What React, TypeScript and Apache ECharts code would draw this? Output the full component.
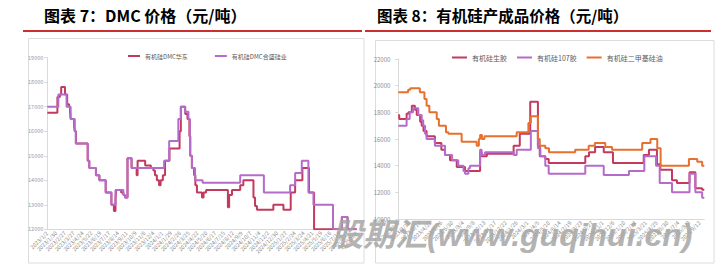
import React, { useEffect, useRef } from "react";
import * as echarts from "echarts";

const leftTitle = "图表 7：DMC 价格（元/吨）";
const rightTitle = "图表 8：有机硅产成品价格（元/吨）";
const watermarkText = "股期汇(www.guqihui.cn)";

const leftLegend = ["有机硅DMC华东", "有机硅DMC合盛硅业"];
const rightLegend = ["有机硅生胶", "有机硅107胶", "有机硅二甲基硅油"];

const leftXTicks = [
  "2023/1/2", "2023/1/30", "2023/2/27", "2023/3/27", "2023/4/24", "2023/5/22",
  "2023/6/19", "2023/7/17", "2023/8/14", "2023/9/11", "2023/10/9", "2023/11/6",
  "2023/12/4", "2024/1/1", "2024/1/29", "2024/2/26", "2024/3/25", "2024/4/22",
  "2024/5/20", "2024/6/17", "2024/7/15", "2024/8/12", "2024/9/9", "2024/10/7",
  "2024/11/4", "2024/12/2", "2024/12/30", "2025/1/27", "2025/2/24", "2025/3/24",
  "2025/4/21", "2025/5/19", "2025/6/16", "2025/7/14", "2025/8/11", "2025/9/8",
];
const leftTickStepDays = 28;

const rightXTicks = [
  "2023/1/6", "2023/2/10", "2023/3/17", "2023/4/21", "2023/5/26", "2023/6/30",
  "2023/8/4", "2023/9/8", "2023/10/13", "2023/11/17", "2023/12/22", "2024/1/26",
  "2024/3/1", "2024/4/5", "2024/5/10", "2024/6/14", "2024/7/19", "2024/8/23",
  "2024/9/27", "2024/11/1", "2024/12/6", "2025/1/10", "2025/2/14", "2025/3/21",
  "2025/4/25", "2025/5/30", "2025/7/4", "2025/8/8", "2025/9/12",
];
const rightTickStepDays = 35;
const rightLastDate = "2025/9/27";

const leftYTicks = [12000, 13000, 14000, 15000, 16000, 17000, 18000, 19000];
const rightYTicks = [10000, 12000, 14000, 16000, 18000, 20000, 22000];

// Left chart: price change points [date, price]
const dmcEast: [string, number][] = [
  ["2023/1/2", 16750], ["2023/2/3", 17400], ["2023/2/11", 17500], ["2023/2/15", 17800],
  ["2023/2/27", 17500], ["2023/3/6", 17100], ["2023/3/12", 17000], ["2023/3/15", 16800],
  ["2023/3/17", 16500], ["2023/3/28", 16200], ["2023/3/30", 16000], ["2023/4/3", 15500],
  ["2023/5/10", 14800], ["2023/5/15", 14500], ["2023/6/5", 14200], ["2023/6/16", 14000],
  ["2023/7/6", 13500], ["2023/7/24", 13000], ["2023/8/1", 12750], ["2023/8/6", 13200],
  ["2023/8/8", 13600], ["2023/8/24", 13500], ["2023/8/31", 13400], ["2023/9/5", 13300],
  ["2023/9/13", 14900], ["2023/9/26", 14500], ["2023/10/12", 14200], ["2023/10/15", 14800],
  ["2023/11/8", 14600], ["2023/11/26", 14500], ["2023/12/4", 14400], ["2023/12/9", 14200],
  ["2023/12/15", 14000], ["2023/12/22", 13800], ["2023/12/27", 14000], ["2024/1/3", 14200],
  ["2024/1/10", 14800], ["2024/1/24", 15300], ["2024/2/25", 16000], ["2024/2/29", 17000],
  ["2024/3/14", 16700], ["2024/3/21", 16500], ["2024/3/27", 15800], ["2024/3/30", 15000],
  ["2024/4/4", 14500], ["2024/4/11", 14200], ["2024/4/15", 13800], ["2024/4/20", 13500],
  ["2024/5/6", 13300], ["2024/5/11", 13500], ["2024/5/19", 13600], ["2024/7/27", 12900],
  ["2024/7/31", 13400], ["2024/8/9", 13600], ["2024/9/4", 13800], ["2024/9/14", 14000],
  ["2024/10/16", 13300], ["2024/10/21", 12950], ["2024/10/27", 12800], ["2024/12/18", 13000],
  ["2025/1/19", 12800], ["2025/2/11", 13500], ["2025/2/25", 14000], ["2025/3/20", 14500],
  ["2025/4/10", 13500], ["2025/4/26", 12000], ["2025/7/23", 12500], ["2025/8/10", 12000],
  ["2025/9/8", 12000],
];

const dmcHoshine: [string, number][] = [
  ["2023/1/2", 17000], ["2023/2/6", 17500], ["2023/3/4", 17000], ["2023/3/17", 16500],
  ["2023/3/30", 16000], ["2023/4/2", 15500], ["2023/5/10", 14800], ["2023/5/15", 14500],
  ["2023/6/5", 14200], ["2023/6/16", 14000], ["2023/7/6", 13500], ["2023/7/24", 13000],
  ["2023/8/6", 13600], ["2023/8/31", 13400], ["2023/9/5", 13300], ["2023/9/13", 14900],
  ["2023/9/26", 14500], ["2024/1/7", 14800], ["2024/1/23", 15600], ["2024/2/21", 16500],
  ["2024/2/29", 17000], ["2024/3/13", 16800], ["2024/3/24", 16500], ["2024/3/29", 15000],
  ["2024/4/4", 14500], ["2024/4/14", 14000], ["2024/5/8", 13900], ["2024/9/4", 14200],
  ["2024/11/18", 13500], ["2025/2/9", 13800], ["2025/2/25", 14300], ["2025/3/18", 14800],
  ["2025/4/8", 13500], ["2025/4/24", 13000], ["2025/6/25", 12000], ["2025/7/23", 12500],
  ["2025/8/10", 12000], ["2025/9/8", 12000],
];

// Right chart: price change points [date, price]
const rawRubber: [string, number][] = [
  ["2023/1/6", 17800], ["2023/1/9", 17500], ["2023/2/2", 17900], ["2023/2/8", 18000],
  ["2023/2/19", 18500], ["2023/3/1", 18200], ["2023/3/7", 17800], ["2023/3/18", 17300],
  ["2023/3/23", 17000], ["2023/3/29", 16600], ["2023/4/8", 16200], ["2023/5/5", 15700],
  ["2023/5/26", 15200], ["2023/6/7", 14800], ["2023/6/23", 14400], ["2023/7/15", 13900],
  ["2023/8/11", 13600], ["2023/9/29", 15000], ["2023/10/4", 14700], ["2023/10/21", 14900],
  ["2024/1/16", 15500], ["2024/2/5", 16400], ["2024/3/10", 18800], ["2024/4/4", 15500],
  ["2024/4/10", 14700], ["2024/4/28", 14500], ["2024/5/9", 14200], ["2024/9/5", 14700],
  ["2024/9/17", 15000], ["2024/10/7", 15400], ["2024/11/4", 15000], ["2024/12/4", 14200],
  ["2025/3/14", 14800], ["2025/3/31", 15200], ["2025/4/26", 14100], ["2025/5/7", 13700],
  ["2025/6/14", 12900], ["2025/6/30", 12700], ["2025/8/10", 13500], ["2025/8/29", 12300],
  ["2025/9/20", 12200], ["2025/9/27", 12200],
];

const gum107: [string, number][] = [
  ["2023/1/6", 17000], ["2023/2/2", 17500], ["2023/2/12", 18000], ["2023/2/23", 18300],
  ["2023/3/12", 17800], ["2023/3/23", 17400], ["2023/3/28", 17000], ["2023/4/3", 16400],
  ["2023/4/8", 16000], ["2023/5/5", 15500], ["2023/6/7", 14800], ["2023/6/30", 14400],
  ["2023/7/20", 14000], ["2023/8/6", 13600], ["2023/8/11", 13400], ["2023/8/22", 13800],
  ["2023/8/27", 14000], ["2023/9/29", 15200], ["2023/10/4", 14800], ["2023/10/15", 15000],
  ["2024/1/16", 14800], ["2024/1/26", 15200], ["2024/3/12", 16600], ["2024/4/4", 15300],
  ["2024/4/12", 14700], ["2024/4/28", 14000], ["2024/5/9", 13400], ["2024/9/5", 14000],
  ["2024/11/4", 13300], ["2025/1/25", 13600], ["2025/3/16", 14700], ["2025/4/23", 14000],
  ["2025/5/5", 12700], ["2025/6/14", 12000], ["2025/8/10", 13400], ["2025/8/29", 12000],
  ["2025/9/20", 11600], ["2025/9/27", 11600],
];

const siliconeOil: [string, number][] = [
  ["2023/1/6", 19500], ["2023/2/7", 19700], ["2023/2/14", 19800], ["2023/3/17", 19500],
  ["2023/4/1", 19000], ["2023/4/8", 18500], ["2023/4/17", 18000], ["2023/5/11", 17500],
  ["2023/5/18", 17000], ["2023/6/10", 16500], ["2023/6/18", 16400], ["2023/7/31", 15800],
  ["2023/9/18", 15500], ["2023/9/25", 16000], ["2023/9/29", 16300], ["2023/10/5", 16000],
  ["2023/10/13", 16200], ["2024/1/26", 16500], ["2024/3/4", 17200], ["2024/3/12", 17700],
  ["2024/4/4", 16000], ["2024/4/10", 15500], ["2024/4/28", 15300], ["2024/5/10", 15000],
  ["2024/8/3", 15200], ["2024/9/16", 15500], ["2024/10/6", 15700], ["2024/11/9", 15400],
  ["2024/12/1", 15200], ["2025/3/9", 15700], ["2025/4/5", 16000], ["2025/4/27", 15300],
  ["2025/5/8", 14000], ["2025/8/8", 14500], ["2025/9/4", 14300], ["2025/9/20", 14000],
  ["2025/9/27", 14000],
];

const DAY_MS = 86400000;
function parseDate(s: string): number {
  const [y, m, d] = s.split("/").map(Number);
  return Date.UTC(y, m - 1, d);
}
function toDays(s: string, start: string): number {
  return Math.round((parseDate(s) - parseDate(start)) / DAY_MS);
}
function toPoints(rows: [string, number][], start: string) {
  return rows.map(([d, v]) => [toDays(d, start), v]);
}
function tickLabel(ticks: string[], step: number) {
  return (v: number) => {
    const i = Math.round(v / step);
    if (Math.abs(v - i * step) > 0.5) return "";
    return ticks[i] ?? "";
  };
}

const RED = "#c23a5e";
const PURPLE = "#b56bca";
const ORANGE = "#e8702e";
const CJK = "'Noto Sans CJK SC', 'Noto Sans', sans-serif";

export default function App() {
  const ref = useRef<HTMLDivElement>(null);
  useEffect(() => {
    if (!ref.current) return;
    const chart = echarts.init(ref.current, undefined, { renderer: "svg" });
    const lStart = leftXTicks[0];
    const rStart = rightXTicks[0];
    const axisLineStyle = { show: true, lineStyle: { color: "#d9d9d9", width: 1 } };
    const option: any = {
      animation: false,
      backgroundColor: "#ffffff",
      textStyle: { fontFamily: CJK },
      grid: [
        { left: 47.3, right: 369.3, top: 57.7, bottom: 35.7 },
        { left: 398.3, right: 21.7, top: 59, bottom: 46 },
      ],
      xAxis: [
        {
          type: "value", gridIndex: 0, min: 0,
          max: leftTickStepDays * (leftXTicks.length - 1), interval: leftTickStepDays,
          axisLine: { ...axisLineStyle, onZero: false }, axisTick: { show: false }, splitLine: { show: false },
          axisLabel: { rotate: 45, fontSize: 5.5, color: "#8c8c8c", margin: 3, formatter: tickLabel(leftXTicks, leftTickStepDays) },
        },
        {
          type: "value", gridIndex: 1, min: 0,
          max: toDays(rightLastDate, rStart), interval: rightTickStepDays,
          axisLine: { ...axisLineStyle, onZero: false }, axisTick: { show: false }, splitLine: { show: false },
          axisLabel: { rotate: 45, fontSize: 5.5, color: "#8c8c8c", margin: 3, showMaxLabel: false, formatter: tickLabel(rightXTicks, rightTickStepDays) },
        },
      ],
      yAxis: [
        {
          type: "value", gridIndex: 0, min: leftYTicks[0], max: leftYTicks[leftYTicks.length - 1], interval: 1000,
          axisLine: { ...axisLineStyle, onZero: false }, axisTick: { show: true, length: 3, lineStyle: { color: "#d9d9d9" } },
          splitLine: { show: false },
          axisLabel: { fontSize: 5.5, color: "#8f9cb5", margin: 4, formatter: (v: number) => String(v) },
        },
        {
          type: "value", gridIndex: 1, min: rightYTicks[0], max: rightYTicks[rightYTicks.length - 1], interval: 2000,
          axisLine: { ...axisLineStyle, onZero: false }, axisTick: { show: true, length: 3, lineStyle: { color: "#d9d9d9" } },
          splitLine: { show: false },
          axisLabel: { fontSize: 6, color: "#8a8d9e", margin: 8, formatter: (v: number) => String(v) },
        },
      ],
      legend: [
        {
          data: leftLegend, left: 128, top: 53, padding: 0, icon: "rect",
          itemWidth: 12, itemHeight: 2, itemGap: 27,
          textStyle: { fontSize: 6, color: "#595959", fontFamily: CJK },
        },
        {
          data: rightLegend, left: 452, top: 54, padding: 0, icon: "rect",
          itemWidth: 15, itemHeight: 2, itemGap: 10,
          textStyle: { fontSize: 7, color: "#595959", fontFamily: CJK },
        },
      ],
      series: [
        { name: leftLegend[0], type: "line", xAxisIndex: 0, yAxisIndex: 0, step: "end", symbol: "none",
          data: toPoints(dmcEast, lStart), lineStyle: { width: 2, color: RED }, itemStyle: { color: RED } },
        { name: leftLegend[1], type: "line", xAxisIndex: 0, yAxisIndex: 0, step: "end", symbol: "none",
          data: toPoints(dmcHoshine, lStart), lineStyle: { width: 2, color: PURPLE }, itemStyle: { color: PURPLE } },
        { name: rightLegend[0], type: "line", xAxisIndex: 1, yAxisIndex: 1, step: "end", symbol: "none",
          data: toPoints(rawRubber, rStart), lineStyle: { width: 2, color: RED }, itemStyle: { color: RED } },
        { name: rightLegend[1], type: "line", xAxisIndex: 1, yAxisIndex: 1, step: "end", symbol: "none",
          data: toPoints(gum107, rStart), lineStyle: { width: 2, color: PURPLE }, itemStyle: { color: PURPLE } },
        { name: rightLegend[2], type: "line", xAxisIndex: 1, yAxisIndex: 1, step: "end", symbol: "none",
          data: toPoints(siliconeOil, rStart), lineStyle: { width: 2, color: ORANGE }, itemStyle: { color: ORANGE } },
      ],
      graphic: [
        { type: "rect", z: 0, shape: { x: 28.5, y: 38.5, width: 335.5, height: 224.5 },
          style: { fill: "none", stroke: "#dcdcdc", lineWidth: 1 } },
        { type: "rect", z: 0, shape: { x: 375.5, y: 40.5, width: 338.5, height: 222.5 },
          style: { fill: "none", stroke: "#dcdcdc", lineWidth: 1 } },
        { type: "line", shape: { x1: 23, y1: 31, x2: 362, y2: 31 }, style: { stroke: "#cc2f2f", lineWidth: 2 } },
        { type: "line", shape: { x1: 365, y1: 31, x2: 711, y2: 31 }, style: { stroke: "#cc2f2f", lineWidth: 2 } },
        { type: "text", x: 44, y: 15, style: { text: leftTitle, fill: "#000", fontSize: 16, fontWeight: "bold", fontFamily: CJK, verticalAlign: "middle" } },
        { type: "text", x: 377, y: 15, style: { text: rightTitle, fill: "#000", fontSize: 15.5, fontWeight: "bold", fontFamily: CJK, verticalAlign: "middle" } },
        { type: "text", z: 100, x: 331, y: 251, style: { text: watermarkText, fill: "rgba(165,165,165,0.85)", fontSize: 32, fontWeight: "bold", fontStyle: "italic", fontFamily: "'Liberation Sans', 'Noto Sans CJK SC', sans-serif", verticalAlign: "bottom" } },
      ],
    };
    chart.setOption(option);
    return () => chart.dispose();
  }, []);
  return <div ref={ref} style={{ position: "absolute", left: 0, top: 0, width: 726, height: 265 }} />;
}
